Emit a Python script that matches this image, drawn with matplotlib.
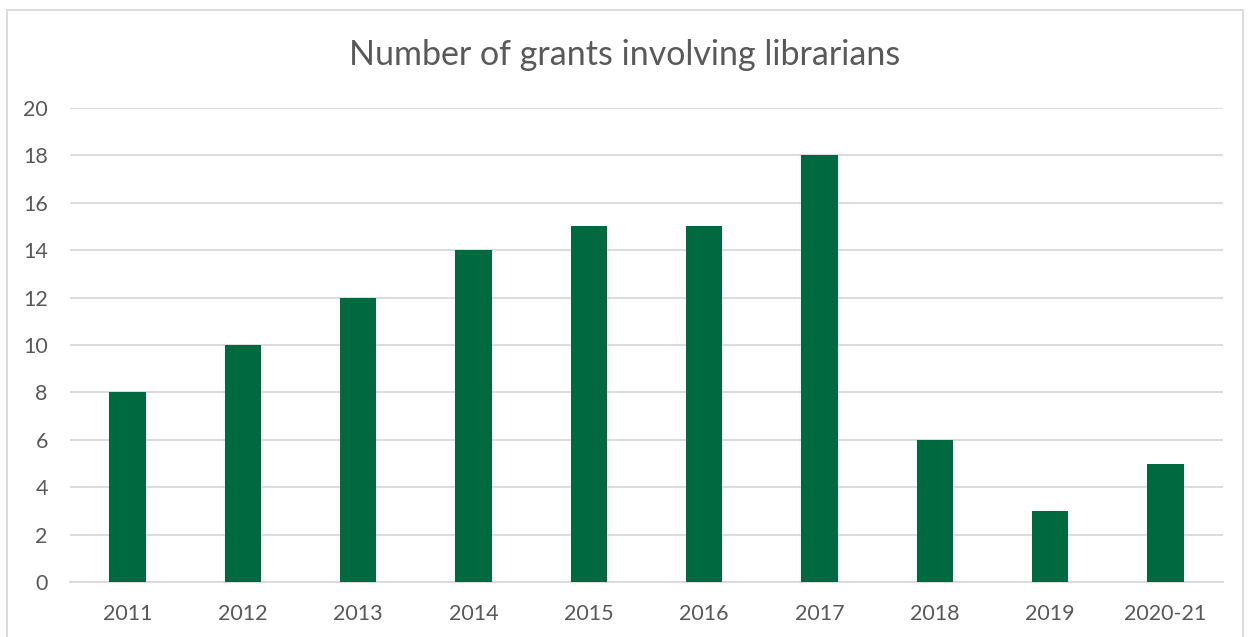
import matplotlib
matplotlib.use("Agg")
import matplotlib.pyplot as plt
from matplotlib.patches import Rectangle

categories = ["2011", "2012", "2013", "2014", "2015", "2016", "2017", "2018", "2019", "2020-21"]
grants = [8, 10, 12, 14, 15, 15, 18, 6, 3, 5]
yticks = [0, 2, 4, 6, 8, 10, 12, 14, 16, 18, 20]
title = "Number of grants involving librarians"

plt.rcParams['font.family'] = ['Lato', 'DejaVu Sans']
text_color = "#595959"
bar_color = "#006940"

fig = plt.figure(figsize=(12.5, 6.37), dpi=100)
fig.patch.set_facecolor("white")
fig.patches.append(Rectangle((7/1250, -0.1), (1243-7)/1250, 1.1 - 10/637,
                             transform=fig.transFigure, fill=False,
                             edgecolor="#d9d9d9", linewidth=1.3))

ax = fig.add_axes([70/1250, 1 - 582/637, (1223-70)/1250, (582-108)/637])
x = list(range(len(categories)))
ax.bar(x, grants, width=0.315, color=bar_color, zorder=3)
ax.set_xlim(-0.5, len(categories) - 0.5)
ax.set_ylim(0, 20)
ax.set_yticks(yticks)
ax.set_xticks(x)
ax.set_xticklabels(categories)
ax.grid(axis='y', color="#d9d9d9", linewidth=1.3, zorder=0)
for s in ['top', 'right', 'left']:
    ax.spines[s].set_visible(False)
ax.spines['bottom'].set_color("#d9d9d9")
ax.spines['bottom'].set_linewidth(1.3)
ax.tick_params(axis='both', length=0, labelsize=15.5, colors=text_color)
ax.tick_params(axis='x', pad=16)
ax.tick_params(axis='y', pad=16)

fig.text(0.5, 1 - 55/637, title, ha='center', va='center', fontsize=24.5, color=text_color)

fig.savefig("out.png", dpi=100)
